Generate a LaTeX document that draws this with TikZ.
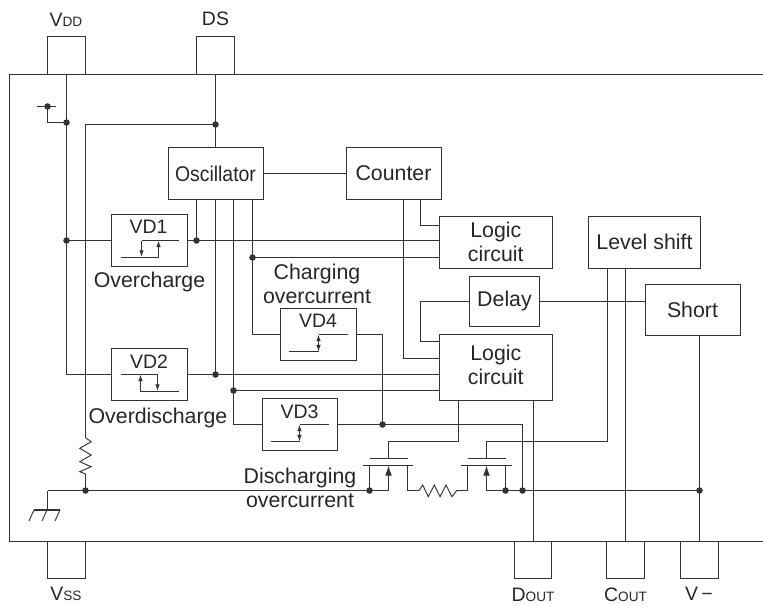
\documentclass[tikz,border=0pt]{standalone}
\usepackage{fontspec}
\setmainfont{Liberation Sans}
\usepackage{xcolor}
\usepackage{graphicx}
\usetikzlibrary{arrows.meta}
\definecolor{ink}{gray}{0.2}
\newcommand{\subcap}[1]{{\fontsize{10.2}{12}\selectfont #1}}
\tikzset{
  block/.style={
    draw,
    rectangle,
    outer sep=0pt,
    inner sep=0pt,
    align=center
  },
  widebox/.style={block, minimum width=71.25pt, minimum height=38.5pt},
  logicbox/.style={block, minimum width=84.4pt, minimum height=39pt},
  vdbox/.style={block, minimum width=56.4pt, minimum height=39pt},
  pad/.style={block, minimum width=28pt, minimum height=27.8pt},
  tag/.style={font=\fontsize{14.6}{18}\selectfont},
  junction/.style={
    circle,
    fill=ink,
    inner sep=0pt,
    minimum size=4.9pt
  },
  hyst/.style={{Latex[length=5pt,width=3.4pt]}-{Latex[length=5pt,width=3.4pt]}},
  hystend/.style={-{Latex[length=5pt,width=3.4pt]}},
  fetarrow/.style={-{Latex[length=7.5pt,width=5pt]}}
}

\begin{document}
\begin{tikzpicture}[line width=0.7pt, x=0.75pt, y=-0.75pt, color=ink,
    every node/.style={font=\fontsize{16}{18}\selectfont, text=black!85}]
  \useasboundingbox (0,0) rectangle (763,606);

  % package outline, open to the right
  \coordinate (TR) at (763,74);
  \coordinate (BR) at (763,541);
  \draw (TR) -- (9.5,74) -- (9.5,541) -- (BR);

  % pads
  \node[pad] (Vdd) at (66.5,55.5) {};
  \node[pad] (DS) at (215.5,55.5) {};
  \node[pad] (Vss) at (66.5,559.5) {};
  \node[pad] (Dout) at (533,559.5) {};
  \node[pad] (Cout) at (625.5,559.5) {};
  \node[pad] (Vm) at (699.5,559.5) {};
  \node[tag] (VddL) at (66,20) {V\subcap{DD}};
  \node[tag] (DSL) at (215.5,19) {DS};
  \node[tag] (VssL) at (66,594) {V\subcap{SS}};
  \node[tag] (DoutL) at (533,595) {D\subcap{OUT}};
  \node[tag] (CoutL) at (625.5,595) {C\subcap{OUT}};
  \node[tag] (VmL) at (699,594) {V\,−};

  % blocks
  \node[widebox] (Osc) at (215.5,173.5) {\scalebox{0.91}[1]{Oscillator}};
  \node[widebox] (Cnt) at (393.5,173.5) {Counter};
  \node[logicbox] (Log1) at (495.8,242) {Logic\\circuit};
  \node[logicbox, minimum height=49.5pt, text depth=3pt] (Log2) at (495.8,367) {Logic\\circuit};
  \node[logicbox] (Lvl) at (644.5,242) {Level shift};
  \node[block, minimum width=53pt, minimum height=37.5pt] (Dly) at (504.5,301) {Delay};
  \node[widebox] (Sht) at (692.5,310) {Short};

  % detectors
  \node[vdbox] (VD1) at (149.5,240.5) {};
  \node[vdbox] (VD2) at (149.5,374.5) {};
  \node[vdbox] (VD3) at (300,424.5) {};
  \node[vdbox] (VD4) at (318.5,334.5) {};
  \node[tag] (VD1t) at (148.5,227) {VD1};
  \node[tag] (VD2t) at (149,362) {VD2};
  \node[tag] (VD3t) at (299.5,412) {VD3};
  \node[tag] (VD4t) at (318,321) {VD4};
  \node (OvC) at (149.5,282) {Overcharge};
  \node (OvD) at (158,418) {Overdischarge};
  \node[align=center] (ChO) at (317,283.5) {Charging\\overcurrent};
  \node[align=center] (DiO) at (300,487.5) {Discharging\\overcurrent};

  % hysteresis marks
  \draw (141.5,240.5) -- (179,240.5);
  \draw (120.5,257.5) -- (158.5,257.5);
  \draw[hystend] (141.5,240.5) -- (141.5,257);
  \draw[hystend] (158.5,257.5) -- (158.5,240.5);
  \draw (120.5,374.5) -- (157.5,374.5);
  \draw (140.5,391.5) -- (179,391.5);
  \draw[hystend] (157.5,374.5) -- (157.5,391);
  \draw[hystend] (140.5,391.5) -- (140.5,374.5);
  \draw (318.5,334.5) -- (347.5,334.5);
  \draw (289,351.5) -- (318.5,351.5);
  \draw[hyst] (318.5,334.5) -- (318.5,351.5);
  \draw (299.5,424.5) -- (328.5,424.5);
  \draw (270.5,441.5) -- (299.5,441.5);
  \draw[hyst] (299.5,424.5) -- (299.5,441.5);

  % supply side
  \coordinate (Jv) at (66.5,122.5);
  \coordinate (Jv1) at (66.5,240.5);
  \coordinate (Jd) at (215.5,124.5);
  \coordinate (Bat) at (47.5,106.5);
  \draw (37,106.5) -- (56,106.5);
  \draw (Bat) -- (47.5,122.5) -- (Jv);
  \draw (Vdd.south) -- (Jv) -- (Jv1) |- (VD2.west);
  \draw (Jv1) -- (VD1.west);
  \node[junction] (JvD) at (Jv) {};
  \node[junction] (Jv1D) at (Jv1) {};
  \node[junction] (BatD) at (Bat) {};
  \draw (DS.south) -- (Jd) -- (Osc.north);
  \node[junction] (JdD) at (Jd) {};

  % pull-down resistor to the ground rail
  \coordinate (Jg) at (85.5,490.5);
  \draw (Jd) -| (85.5,437.7) -- ++(5.7,4) -- ++(-11.4,6.6) -- ++(11.4,6.7) -- ++(-11.4,6.7)
    -- ++(11.4,5) -- ++(-11.4,5) -- (85.5,474) -- (Jg);
  \node[junction] (JgD) at (Jg) {};
  \draw[line width=1.1pt] (47.5,490.5) -- (47.5,510);
  \draw[line width=1.1pt] (34,510) -- (60,510);
  \draw (34,510) -- ++(-5,11);
  \draw (47,510) -- ++(-5,11);
  \draw (60,510) -- ++(-5,11);

  % oscillator and counter outputs
  \draw (Osc.east) -- (Cnt.west);
  \coordinate (J1) at (196.5,240.5);
  \coordinate (J2) at (215.5,374.5);
  \coordinate (J3) at (233.5,390.5);
  \coordinate (J4) at (252.5,257.5);
  \draw (Osc.south -| J1) -- (J1);
  \draw (VD1.east) -- (J1) -- (J1 -| Log1.west);
  \draw (Osc.south -| J2) -- (J2);
  \draw (VD2.east) -- (J2) -- (J2 -| Log2.west);
  \draw (Osc.south -| J3) -- (J3) |- (VD3.west);
  \draw (J3) -- (J3 -| Log2.west);
  \draw (Osc.south -| J4) -- (J4) |- (VD4.west);
  \draw (J4) -- (J4 -| Log1.west);
  \node[junction] (J1D) at (J1) {};
  \node[junction] (J2D) at (J2) {};
  \node[junction] (J3D) at (J3) {};
  \node[junction] (J4D) at (J4) {};
  \draw (Cnt.south -| 420.5,0) |- (Log1.west |- 0,225.5);
  \draw (Cnt.south -| 403.5,0) |- (Log2.west |- 0,358.5);

  % delay and short
  \draw (Dly.east) -- (Dly.east -| Sht.west);
  \draw (Dly.west) -- (420.5,301) |- (Log2.west |- 0,341.5);
  \draw (Lvl.south -| Cout) -- (Cout.north);
  \coordinate (Jm) at (699.5,490.5);
  \draw (Sht.south -| Jm) -- (Jm) -- (Vm.north);
  \node[junction] (JmD) at (Jm) {};
  \draw (Log2.south -| Dout) -- (Dout.north);

  % detector outputs to the rail
  \coordinate (J5) at (382.5,424.5);
  \coordinate (J6) at (522.5,490.5);
  \draw (VD4.east) -| (J5);
  \draw (VD3.east) -- (J5) -| (J6);
  \node[junction] (J5D) at (J5) {};

  % discharge and charge switches
  \coordinate (G1) at (388.5,441.5);
  \coordinate (G2) at (486.5,441.5);
  \draw (Log2.south -| 458.5,0) |- (G1) -- (388.5,458.5);
  \draw (Lvl.south -| 607.5,0) |- (G2) -- (486.5,458.5);
  \draw (369.5,458.5) -- (407.5,458.5);
  \draw (467.5,458.5) -- (505.5,458.5);
  \draw (363,465.5) -- (413,465.5);
  \draw (461,465.5) -- (511.5,465.5);
  \coordinate (S1) at (369.5,490.5);
  \coordinate (S2) at (505.5,490.5);
  \draw (Jg) -- (47.5,490.5);
  \draw (Jg) -- (S1) -- (388.5,490.5);
  \draw[fetarrow] (388.5,490.5) -- (388.5,465.5);
  \draw (S1) -- (369.5,465.5);
  \draw (407.5,465.5) -- (407.5,490.5) -- (419,490.5) -- ++(3.7,-5.5) -- ++(5.6,11.7) -- ++(6,-11.7)
    -- ++(5.7,11.7) -- ++(6,-11.7) -- ++(6,11.7) -- (456.7,490.5) -- (467.5,490.5) -- (467.5,465.5);
  \draw[fetarrow] (486.5,490.5) -- (486.5,465.5);
  \draw (486.5,490.5) -- (S2) -- (J6) -- (Jm);
  \draw (S2) -- (505.5,465.5);
  \node[junction] (S1D) at (S1) {};
  \node[junction] (S2D) at (S2) {};
  \node[junction] (J6D) at (J6) {};
\end{tikzpicture}
\end{document}
